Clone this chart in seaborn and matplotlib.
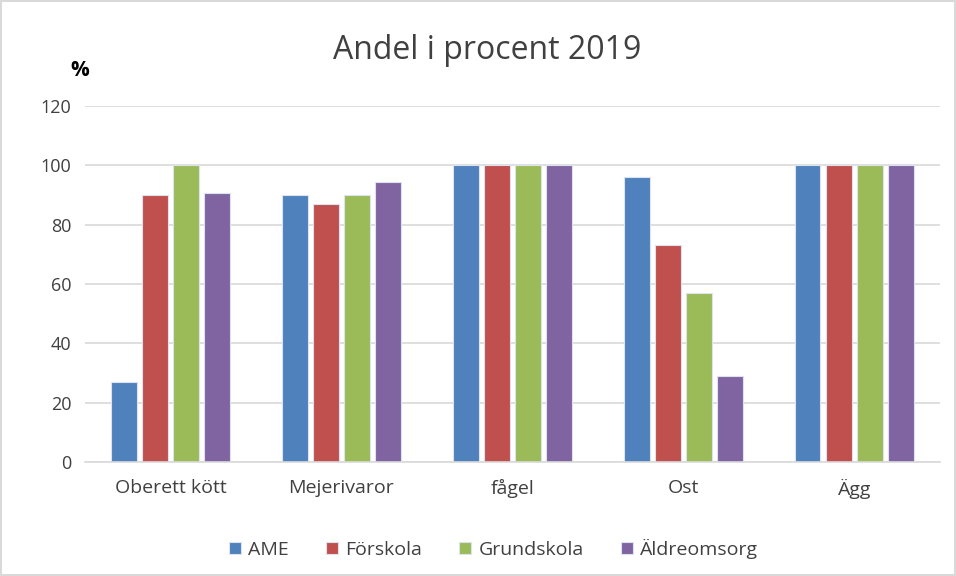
import pandas as pd
import numpy as np
import seaborn as sns
import matplotlib.pyplot as plt

categories = ['Oberett kött', 'Mejerivaror', 'fågel', 'Ost', 'Ägg']
groups = ['AME', 'Förskola', 'Grundskola', 'Äldreomsorg']
ame = [27, 90, 100, 96, 100]
forskola = [90, 87, 100, 73, 100]
grundskola = [100, 90, 100, 57, 100]
aldreomsorg = [90.5, 94.5, 100, 29, 100]
colors = ['#4F81BD', '#C0504D', '#9BBB59', '#8064A2']

sns.set_style('white')
plt.rcParams['font.family'] = ['Open Sans', 'DejaVu Sans']

rows = []
for g, vals in zip(groups, [ame, forskola, grundskola, aldreomsorg]):
    for c, v in zip(categories, vals):
        rows.append({'kategori': c, 'grupp': g, 'andel': v})
df = pd.DataFrame(rows)

fig = plt.figure(figsize=(9.56, 5.76), dpi=100)
fig.patch.set_edgecolor('#d9d9d9')
fig.patch.set_linewidth(1.5)
ax = fig.add_axes([0.089, 0.198, 0.894, 0.618])

sns.barplot(data=df, x='kategori', y='andel', hue='grupp', palette=colors,
            width=0.73, gap=0.17, ax=ax, edgecolor='#dde3ee', linewidth=0.8,
            saturation=1)

ax.set_ylim(0, 120)
ax.set_yticks(np.arange(0, 121, 20))
ax.grid(axis='y', color='#d9d9d9', linewidth=1.2)
ax.set_axisbelow(True)
for s in ['left', 'right', 'top']:
    ax.spines[s].set_visible(False)
ax.spines['bottom'].set_color('#d9d9d9')
ax.spines['bottom'].set_linewidth(1.2)
ax.tick_params(axis='y', length=0, labelsize=13, labelcolor='#404040', pad=10)
ax.tick_params(axis='x', length=0, labelsize=14, labelcolor='#404040', pad=12)
ax.set_xlabel('')
ax.set_ylabel('')

fig.text(0.51, 0.912, 'Andel i procent 2019', ha='center', va='center',
         fontsize=23, color='#404040')
fig.text(0.083, 0.878, '%', ha='center', va='center', fontsize=15,
         fontweight='bold', color='black')

ax.legend(loc='center', bbox_to_anchor=(0.478, -0.245), ncol=4, frameon=False,
          fontsize=14, handlelength=0.6, handleheight=0.6, columnspacing=1.9,
          handletextpad=0.4, labelcolor='#404040')

fig.savefig('out.png', dpi=100)
